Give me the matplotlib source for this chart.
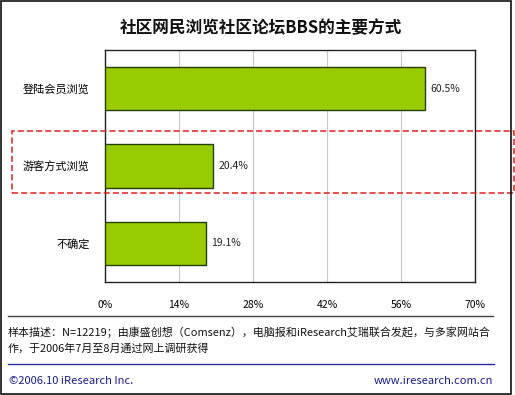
import matplotlib
matplotlib.use("Agg")
import matplotlib.pyplot as plt
from matplotlib.patches import Rectangle
from matplotlib.lines import Line2D

plt.rcParams['font.family'] = ['Noto Sans CJK SC', 'DejaVu Sans']

categories = ["登陆会员浏览", "游客方式浏览", "不确定"]
values = [60.5, 20.4, 19.1]
xticks = [0, 14, 28, 42, 56, 70]
title = "社区网民浏览社区论坛BBS的主要方式"
note = ("样本描述：N=12219；由康盛创想（Comsenz），电脑报和iResearch艾瑞联合发起，与多家网站合\n"
        "作，于2006年7月至8月通过网上调研获得")

W, H = 515, 395
fig = plt.figure(figsize=(W / 100, H / 100), dpi=100)

def fx(px): return px / W
def fy(py): return 1 - py / H

ax = fig.add_axes([fx(105), fy(282), fx(475) - fx(105), fy(50) - fy(282)])
ypos = list(range(len(categories)))
ax.barh(ypos, values, height=0.56, color="#99CC00", edgecolor="#263f00", linewidth=1, zorder=3)
for y, v in zip(ypos, values):
    ax.text(v + 1, y, f"{v}%", va="center", ha="left", fontsize=7.5, color="#222222")
ax.set_xlim(0, 70)
ax.set_ylim(2.5, -0.5)
ax.set_xticks(xticks)
ax.set_xticklabels([f"{t}%" for t in xticks], fontsize=7.5)
ax.set_yticks(ypos)
ax.set_yticklabels(categories, fontsize=8)
ax.tick_params(axis="both", length=0)
ax.tick_params(axis="x", pad=13)
ax.tick_params(axis="y", pad=11)
ax.grid(axis="x", color="#c8c8c8", linewidth=0.8, zorder=0)
for s in ax.spines.values():
    s.set_color("#222222")
    s.set_linewidth(1)

fig.text(fx(261), fy(28), title, ha="center", va="center", fontsize=12, fontweight="bold", color="#111111")

# red dashed highlight box
fig.patches.append(Rectangle((fx(12), fy(193)), fx(514) - fx(12), fy(131) - fy(193),
                             transform=fig.transFigure, fill=False, edgecolor="#e02020",
                             linestyle=(0, (4, 2)), linewidth=1.1))

# separators
fig.add_artist(Line2D([fx(8), fx(493)], [fy(316), fy(316)], transform=fig.transFigure,
                      color="#444444", linewidth=1))
fig.add_artist(Line2D([fx(8), fx(494)], [fy(364), fy(364)], transform=fig.transFigure,
                      color="#2a2a9a", linewidth=1))

fig.text(fx(8), fy(340), note, ha="left", va="center", fontsize=7.9, color="#111111", linespacing=1.55)
fig.text(fx(9), fy(381), "©2006.10 iResearch Inc.", ha="left", va="center", fontsize=8, color="#1a1a8a")
fig.text(fx(493), fy(381), "www.iresearch.com.cn", ha="right", va="center", fontsize=8, color="#1a1a8a")

# outer frame
fig.patches.append(Rectangle((fx(1), fy(394)), fx(511) - fx(1), fy(1) - fy(394),
                             transform=fig.transFigure, fill=False, edgecolor="#111111", linewidth=1.2))

fig.savefig("out.png", dpi=100)
